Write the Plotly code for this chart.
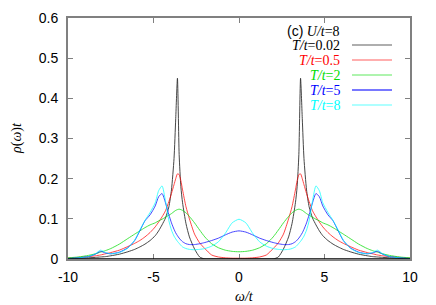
import plotly.graph_objects as go

# half-axis frequency grid (curves are symmetric in omega)
omega_pos = [0, 0.4, 0.8, 1.2, 1.6, 2.0, 2.3, 2.6, 2.9, 3.1, 3.3, 3.4, 3.5, 3.6, 3.7, 3.8,
             3.95, 4.1, 4.3, 4.5, 4.7, 4.9, 5.2, 5.5, 5.8, 6.1, 6.5, 7.0, 7.5, 7.8, 8.1,
             8.4, 8.8, 9.4, 10]

rho_T002 = [0, 0, 0, 0, 0, 0.0, 0.005, 0.025, 0.055, 0.088, 0.14, 0.18, 0.26, 0.45, 0.35, 0.25,
            0.172, 0.13, 0.102, 0.085, 0.07, 0.058, 0.046, 0.037, 0.03, 0.024, 0.018, 0.012,
            0.008, 0.006, 0.005, 0.004, 0.003, 0.002, 0.001]
rho_T05 = [0.002, 0.002, 0.003, 0.005, 0.01, 0.026, 0.04, 0.062, 0.1, 0.13, 0.172, 0.195,
           0.21, 0.212, 0.2, 0.185, 0.163, 0.143, 0.12, 0.105, 0.092, 0.08, 0.066, 0.055,
           0.046, 0.039, 0.031, 0.022, 0.016, 0.013, 0.01, 0.008, 0.006, 0.004, 0.002]
rho_T2 = [0.018, 0.019, 0.022, 0.028, 0.038, 0.055, 0.072, 0.09, 0.106, 0.115, 0.121, 0.123,
          0.124, 0.123, 0.121, 0.118, 0.113, 0.109, 0.104, 0.099, 0.095, 0.09, 0.085, 0.078,
          0.07, 0.062, 0.051, 0.037, 0.026, 0.021, 0.017, 0.013, 0.009, 0.005, 0.003]
rho_T5 = [0.07, 0.067, 0.06, 0.052, 0.046, 0.041, 0.038, 0.036, 0.036, 0.038, 0.043, 0.047,
          0.052, 0.058, 0.065, 0.074, 0.09, 0.11, 0.14, 0.163, 0.155, 0.132, 0.11, 0.095,
          0.07, 0.046, 0.028, 0.017, 0.013, 0.015, 0.019, 0.012, 0.006, 0.003, 0.001]
rho_T8 = [0.099, 0.09, 0.064, 0.043, 0.032, 0.026, 0.024, 0.023, 0.024, 0.026, 0.03, 0.034,
          0.039, 0.044, 0.05, 0.057, 0.072, 0.095, 0.145, 0.182, 0.17, 0.14, 0.116, 0.096,
          0.072, 0.047, 0.027, 0.016, 0.013, 0.016, 0.022, 0.013, 0.006, 0.003, 0.001]

series_names = ["T/t=0.02", "T/t=0.5", "T/t=2", "T/t=5", "T/t=8"]
series_vals = [rho_T002, rho_T05, rho_T2, rho_T5, rho_T8]
series_colors = ["#000000", "#ff0000", "#00dd00", "#0000ff", "#00ffff"]

x_ticks = [-10, -5, 0, 5, 10]
y_ticks = [0, 0.1, 0.2, 0.3, 0.4, 0.5, 0.6]


def mirror(xs, ys):
    fx = [-v for v in reversed(xs[1:])] + list(xs)
    fy = list(reversed(ys[1:])) + list(ys)
    return fx, fy


fig = go.Figure()
for name, vals, col in zip(series_names, series_vals, series_colors):
    fx, fy = mirror(omega_pos, vals)
    fig.add_trace(go.Scatter(x=fx, y=fy, mode="lines", name=name,
                             line=dict(color=col, width=0.9, shape="spline", smoothing=0.6),
                             opacity=0.8, showlegend=False))

SANS = "Liberation Sans, Arial, sans-serif"
SERIF = "Liberation Serif, Times New Roman, serif"

L, R, T, B = 68, 410, 18, 259
W, H = 436, 305
PW, PH = R - L, B - T

fig.update_layout(
    width=W, height=H,
    margin=dict(l=L, r=W - R, t=T, b=H - B, autoexpand=False),
    paper_bgcolor="white", plot_bgcolor="white",
    xaxis=dict(range=[-10, 10], tickvals=x_ticks, ticktext=[str(v) for v in x_ticks],
               ticks="inside", ticklen=5, tickcolor="#808080", showgrid=False, zeroline=False,
               showline=True, linecolor="#808080", linewidth=2, mirror="allticks",
               automargin=False, ticklabelstandoff=4,
               tickfont=dict(family=SANS, size=14, color="black")),
    yaxis=dict(range=[0, 0.6], tickvals=y_ticks, ticktext=["0", "0.1", "0.2", "0.3", "0.4", "0.5", "0.6"],
               ticks="inside", ticklen=5, tickcolor="#808080", showgrid=False, zeroline=False,
               showline=True, linecolor="#808080", linewidth=2, mirror="allticks",
               automargin=False, ticklabelstandoff=5,
               tickfont=dict(family=SANS, size=14, color="black")),
)

# axis titles
fig.add_annotation(xref="paper", yref="paper", x=(244 - L) / PW, y=(B - 296) / PH,
                   xanchor="center", yanchor="middle", showarrow=False,
                   text="<i>ω/t</i>", font=dict(family=SERIF, size=14, color="black"))
fig.add_annotation(xref="paper", yref="paper", x=(17 - L) / PW, y=(B - 138) / PH,
                   xanchor="center", yanchor="middle", showarrow=False, textangle=-90,
                   text="<i>ρ</i>(<i>ω</i>)<i>t</i>", font=dict(family=SERIF, size=14, color="black"))

# black zero line along the bottom
fig.add_shape(type="line", xref="x", yref="y", x0=-10, x1=10, y0=0, y1=0,
              line=dict(color="black", width=1.5), layer="above")

# legend block (gnuplot style: right-aligned text, sample line to the right)
fig.add_annotation(xref="paper", yref="paper", x=(342 - L) / PW, y=(B - 31) / PH,
                   xanchor="right", yanchor="middle", showarrow=False,
                   text='<span style="font-family:Liberation Sans">(c)</span> <i>U/t</i>=8',
                   font=dict(family=SERIF, size=14, color="black"))
row_y = [45, 60, 75, 90, 105]
for name, col, ry in zip(series_names, series_colors, row_y):
    ypap = (B - ry) / PH
    fig.add_annotation(xref="paper", yref="paper", x=(342 - L) / PW, y=ypap,
                       xanchor="right", yanchor="middle", showarrow=False,
                       text="<i>T/t</i>=" + name.split("=")[1],
                       font=dict(family=SERIF, size=14, color=col))
    fig.add_shape(type="line", xref="paper", yref="paper",
                  x0=(352 - L) / PW, x1=(392 - L) / PW, y0=ypap, y1=ypap,
                  line=dict(color=col, width=1.3 if col == "#0000ff" else 0.9), opacity=0.7)

fig.write_html("out.html", config={"displayModeBar": False},
               post_script="document.body.style.margin='0';document.body.style.padding='0';")
